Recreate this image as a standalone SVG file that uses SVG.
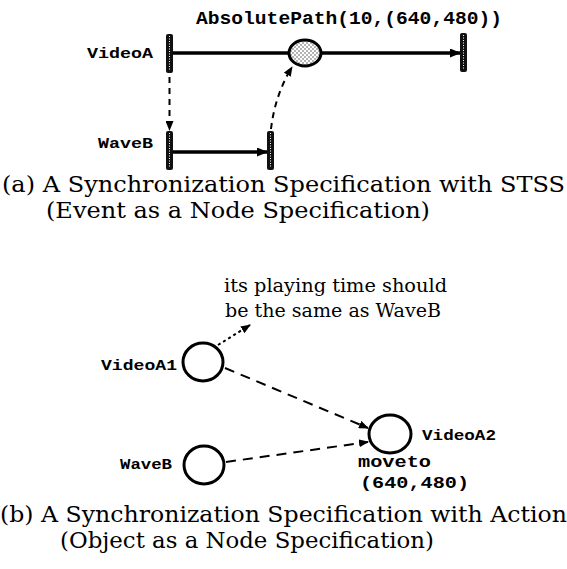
<svg xmlns="http://www.w3.org/2000/svg" width="567" height="569" viewBox="0 0 567 569">
<defs>
<marker id="ah" markerWidth="11" markerHeight="9" refX="10" refY="4.5" orient="auto" markerUnits="userSpaceOnUse"><path d="M0,0 L11,4.5 L0,9 z" fill="#000"/></marker>
<marker id="ahs" markerWidth="10" markerHeight="8" refX="9" refY="4" orient="auto" markerUnits="userSpaceOnUse"><path d="M0,0 L10,4 L0,8 z" fill="#000"/></marker>
<pattern id="dots" width="4" height="4" patternUnits="userSpaceOnUse"><rect width="4" height="4" fill="#fff"/><circle cx="1" cy="1" r="0.8" fill="#555"/><circle cx="3" cy="3" r="0.8" fill="#555"/></pattern>
</defs>
<style>
.mono{font-family:"Liberation Mono","Courier New",monospace;font-weight:bold;fill:#000}
.serif{font-family:"DejaVu Serif","Liberation Serif",serif;fill:#000}
.bar{fill:#111}
.barc{stroke:#fff;stroke-width:1;stroke-dasharray:1 1.5}
.solid{stroke:#000;stroke-width:3.5;fill:none}
.dash{stroke:#000;stroke-width:2;fill:none;stroke-dasharray:6 5}
.ldash{stroke:#000;stroke-width:2;fill:none;stroke-dasharray:10 7}
.dot{stroke:#000;stroke-width:2;fill:none;stroke-dasharray:3 3}
.node{fill:#fff;stroke:#000;stroke-width:3}
</style>
<text class="mono" x="196" y="24" font-size="19" textLength="306" lengthAdjust="spacingAndGlyphs">AbsolutePath(10,(640,480))</text>
<g id="connectors">
<line class="solid" x1="173" y1="53" x2="289" y2="53"/>
<line class="solid" x1="321" y1="53" x2="460" y2="53" marker-end="url(#ah)"/>
<line class="solid" x1="173" y1="152" x2="267" y2="152" marker-end="url(#ah)"/>
<line class="dash" x1="169.5" y1="77" x2="169.5" y2="130" marker-end="url(#ahs)"/>
<path class="dash" d="M271,129 Q275,95 292,67" marker-end="url(#ahs)"/>
<line class="dot" x1="218" y1="345" x2="250" y2="325" marker-end="url(#ahs)"/>
<line class="ldash" x1="225" y1="368" x2="368" y2="428" marker-end="url(#ahs)"/>
<line class="ldash" x1="226" y1="462" x2="368" y2="442" marker-end="url(#ahs)"/>
</g>
<g id="videoA">
<text class="mono" x="87" y="58" font-size="15" textLength="66" lengthAdjust="spacingAndGlyphs">VideoA</text>
<rect class="bar" x="166" y="34" width="7" height="39" rx="2"/>
<line class="barc" x1="169.5" y1="36" x2="169.5" y2="71"/>
</g>
<g id="event">
<ellipse cx="305" cy="53" rx="16" ry="13" fill="url(#dots)" stroke="#000" stroke-width="3"/>
</g>
<g id="videoA-end">
<rect class="bar" x="460" y="33" width="7" height="39" rx="2"/>
<line class="barc" x1="463.5" y1="35" x2="463.5" y2="70"/>
</g>
<g id="waveB">
<text class="mono" x="98" y="148" font-size="15" textLength="55" lengthAdjust="spacingAndGlyphs">WaveB</text>
<rect class="bar" x="166" y="131" width="7" height="39" rx="2"/>
<line class="barc" x1="169.5" y1="133" x2="169.5" y2="168"/>
</g>
<g id="waveB-end">
<rect class="bar" x="267" y="131" width="7" height="39" rx="2"/>
<line class="barc" x1="270.5" y1="133" x2="270.5" y2="168"/>
</g>
<text class="serif" x="2" y="192" font-size="22" textLength="563" lengthAdjust="spacingAndGlyphs">(a) A Synchronization Specification with STSS</text>
<text class="serif" x="46" y="218" font-size="22" textLength="384" lengthAdjust="spacingAndGlyphs">(Event as a Node Specification)</text>
<g id="note">
<text class="serif" x="224" y="292" font-size="19" textLength="223" lengthAdjust="spacingAndGlyphs">its playing time should</text>
<text class="serif" x="225" y="317" font-size="19" textLength="216" lengthAdjust="spacingAndGlyphs">be the same as WaveB</text>
</g>
<g id="videoA1">
<text class="mono" x="101" y="370" font-size="15" textLength="76" lengthAdjust="spacingAndGlyphs">VideoA1</text>
<ellipse class="node" cx="203" cy="362" rx="20" ry="19"/>
</g>
<g id="videoA2">
<ellipse class="node" cx="390" cy="434" rx="21" ry="19"/>
<text class="mono" x="422" y="440" font-size="15" textLength="74" lengthAdjust="spacingAndGlyphs">VideoA2</text>
<text class="mono" x="358" y="467" font-size="16" textLength="73" lengthAdjust="spacingAndGlyphs">moveto</text>
<text class="mono" x="360" y="488" font-size="16" textLength="109" lengthAdjust="spacingAndGlyphs">(640,480)</text>
</g>
<g id="waveB2">
<text class="mono" x="120" y="469" font-size="15" textLength="52" lengthAdjust="spacingAndGlyphs">WaveB</text>
<ellipse class="node" cx="204" cy="465" rx="20" ry="19"/>
</g>
<text class="serif" x="0" y="522" font-size="22" textLength="567" lengthAdjust="spacingAndGlyphs">(b) A Synchronization Specification with Action</text>
<text class="serif" x="60" y="548" font-size="22" textLength="374" lengthAdjust="spacingAndGlyphs">(Object as a Node Specification)</text>
</svg>
